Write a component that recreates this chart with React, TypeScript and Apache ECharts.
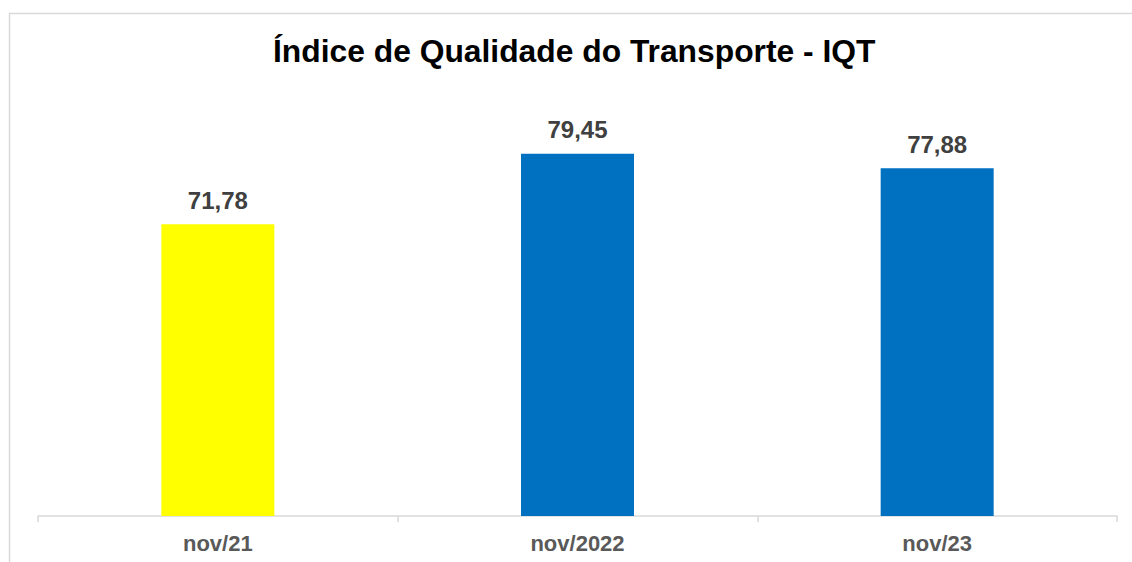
import React, { useEffect, useRef } from "react";
import * as echarts from "echarts";

const categories = ["nov/21", "nov/2022", "nov/23"];
const values = [71.78, 79.45, 77.88];
const barColors = ["#FFFF00", "#0070C0", "#0070C0"];
const titleText = "Índice de Qualidade do Transporte - IQT";

export default function App() {
  const ref = useRef<HTMLDivElement>(null);
  useEffect(() => {
    const chart = echarts.init(ref.current!, null, { renderer: "svg" });
    chart.setOption({
      animation: false,
      backgroundColor: "#ffffff",
      title: {
        text: titleText,
        left: 268,
        top: 30,
        textStyle: {
          fontFamily: "Liberation Sans, Arial, sans-serif",
          fontSize: 31.8,
          fontWeight: "bold",
          color: "#000000",
        },
      },
      graphic: [
        {
          type: "polyline",
          shape: { points: [[9.5, 600], [9.5, 13.5], [1140, 13.5]] },
          style: { stroke: "#d9d9d9", lineWidth: 1.5, fill: "none" },
          silent: true,
        },
      ],
      grid: { left: 38, right: 15, top: 57, bottom: 46, containLabel: false },
      xAxis: {
        type: "category",
        data: categories,
        axisLine: { lineStyle: { color: "#d9d9d9", width: 1.5 } },
        axisTick: { show: true, length: 6, lineStyle: { color: "#d9d9d9", width: 1.5 } },
        axisLabel: {
          margin: 16,
          fontFamily: "Liberation Sans, Arial, sans-serif",
          fontSize: 22,
          fontWeight: "bold",
          color: "#595959",
        },
      },
      yAxis: {
        type: "value",
        min: 40,
        max: 90,
        show: false,
        splitLine: { show: false },
      },
      series: [
        {
          type: "bar",
          barWidth: 113,
          data: values.map((v, i) => ({ value: v, itemStyle: { color: barColors[i] } })),
          label: {
            show: true,
            position: "top",
            distance: 12,
            formatter: (p: any) => p.value.toFixed(2).replace(".", ","),
            fontFamily: "Liberation Sans, Arial, sans-serif",
            fontSize: 24,
            fontWeight: "bold",
            color: "#404040",
          },
        },
      ],
    });
    return () => chart.dispose();
  }, []);
  return (
    <div
      ref={ref}
      style={{ position: "absolute", left: 0, top: 0, width: 1132, height: 562 }}
    />
  );
}
